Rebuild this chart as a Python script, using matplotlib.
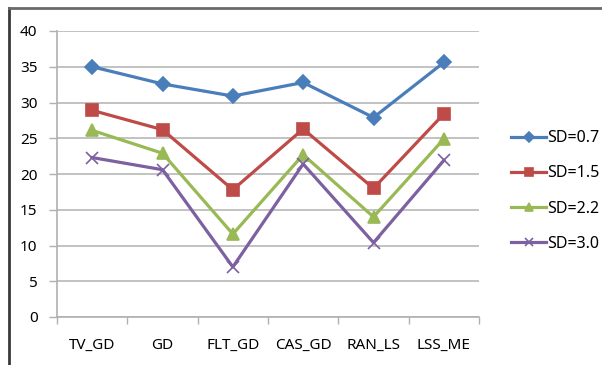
import matplotlib
matplotlib.use("Agg")
import matplotlib.pyplot as plt
from matplotlib.lines import Line2D

categories = ["TV_GD", "GD", "FLT_GD", "CAS_GD", "RAN_LS", "LSS_ME"]
sd_07 = [35.0, 32.6, 30.9, 32.8, 27.9, 35.6]
sd_15 = [28.9, 26.2, 17.8, 26.3, 18.0, 28.4]
sd_22 = [26.1, 22.9, 11.6, 22.7, 14.0, 24.9]
sd_30 = [22.3, 20.6, 7.0, 21.4, 10.4, 21.9]
series_labels = ["SD=0.7", "SD=1.5", "SD=2.2", "SD=3.0"]
y_ticks = [0, 5, 10, 15, 20, 25, 30, 35, 40]

plt.rcParams["font.family"] = ["Noto Sans", "DejaVu Sans"]

fig = plt.figure(figsize=(6.02, 3.65), dpi=100)
ax = fig.add_axes([57 / 602, 1 - 317 / 365, (479 - 57) / 602, (317 - 31) / 365])

x = list(range(len(categories)))
styles = [
    (sd_07, "#4A7EBB", "D", 7, "#4A7EBB"),
    (sd_15, "#BE4B48", "s", 9, "#BE4B48"),
    (sd_22, "#98B954", "^", 9, "#98B954"),
    (sd_30, "#7D60A0", "x", 9, "#7D60A0"),
]
for (vals, col, mk, ms, mc), lab in zip(styles, series_labels):
    ax.plot(x, vals, color=col, lw=2.3, marker=mk, markersize=ms,
            markerfacecolor=mc, markeredgecolor=mc, markeredgewidth=1.2,
            label=lab, zorder=3)

ax.set_xlim(-0.5, len(categories) - 0.5)
ax.set_ylim(0, 40)
ax.set_yticks(y_ticks)
ax.set_xticks(x)
ax.set_xticklabels(categories)
ax.set_xticks([i - 0.5 for i in range(len(categories) + 1)], minor=True)
ax.tick_params(axis="x", which="major", length=0, pad=15, labelsize=11)
ax.tick_params(axis="x", which="minor", length=5, color="#b0b0b0", width=1)
ax.tick_params(axis="y", length=6, color="#b0b0b0", width=1, labelsize=11, pad=8)
ax.yaxis.grid(True, color="#b8b8b8", lw=1.2)
ax.set_axisbelow(True)
for side in ["top", "right"]:
    ax.spines[side].set_visible(False)
for side in ["left", "bottom"]:
    ax.spines[side].set_color("#b0b0b0")
    ax.spines[side].set_linewidth(1.2)

handles, labels = ax.get_legend_handles_labels()
fig.legend(handles, labels, loc="center left", bbox_to_anchor=(503 / 602, 1 - 191 / 365),
           frameon=False, fontsize=11.5, handlelength=2.2, labelspacing=1.2,
           handletextpad=0.05, borderpad=0, markerscale=0.7)

# outer frame (left and top edges)
fig.add_artist(Line2D([9 / 602, 9 / 602], [0, 1 - 7.5 / 365], color="#3a3a3a", lw=2,
                      transform=fig.transFigure))
fig.add_artist(Line2D([8.5 / 602, 1], [1 - 7.5 / 365, 1 - 7.5 / 365], color="#6a6a6a", lw=2,
                      transform=fig.transFigure))

fig.savefig("out.png", dpi=100)
